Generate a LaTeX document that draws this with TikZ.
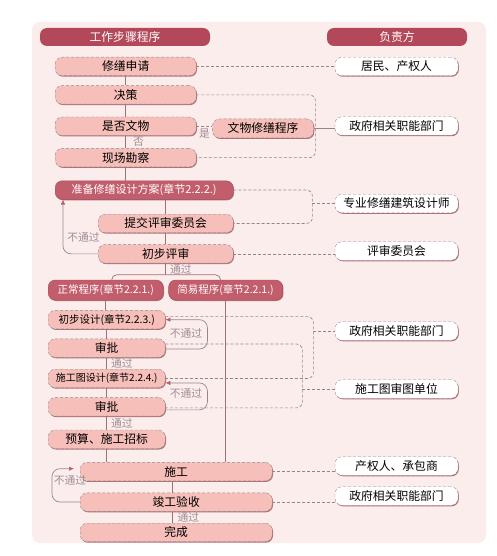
\documentclass[tikz,border=0pt]{standalone}
\usepackage{fontspec}
\setmainfont{Noto Sans CJK SC}
\usepackage{tikz}
\usetikzlibrary{positioning,shadows,arrows.meta}
\definecolor{bgpink}{HTML}{FCEDED}
\definecolor{hdrred}{HTML}{B2485A}
\definecolor{darkstep}{HTML}{C25D6C}
\definecolor{lightstep}{HTML}{F6BFB9}
\definecolor{stepshade}{HTML}{B07078}
\definecolor{flowline}{HTML}{A07078}
\definecolor{respline}{HTML}{908888}
\definecolor{loopline}{HTML}{968690}
\definecolor{looparrow}{HTML}{B8606E}
\definecolor{labelgray}{HTML}{A08C94}
\tikzset{
  bracket/.style={
    to path={
      (\tikztostart) -- ++(#1,0) |- (\tikztotarget)
      \tikztonodes
    }
  },
  bracket/.default=20pt,
}
\begin{document}
\begin{tikzpicture}[
    x=1pt, y=-1pt,
    node distance=10pt,
%     stepname/.style={rectangle, rounded corners=7pt, draw=black!50, fill=lightstep},
    stepname/.style={rectangle, rounded corners=7pt, draw=black!45, densely dashed, fill=lightstep,
      minimum height=18.5pt, inner sep=0pt, font=\fontsize{11.8}{12}\selectfont,
      drop shadow={shadow xshift=0.8pt, shadow yshift=-1pt, fill=stepshade, opacity=1}},
    keystep/.style={stepname, solid, draw=darkstep!85!black, fill=darkstep, text=white},
    smallstep/.style={font=\fontsize{10.5}{11}\selectfont},
    whoname/.style={rectangle, rounded corners=7pt, draw=black!45, densely dashed, fill=white,
      minimum width=123pt, minimum height=18.5pt, inner sep=0pt, font=\fontsize{11.8}{12}\selectfont,
      drop shadow={shadow xshift=0.8pt, shadow yshift=-1pt, fill=stepshade, opacity=1}},
    headname/.style={rectangle, rounded corners=7pt, fill=hdrred, text=white,
      minimum height=18pt, inner sep=0pt, font=\fontsize{11.8}{12}\selectfont},
    flow/.style={draw=flowline, line width=0.7pt},
    resp/.style={draw=respline, densely dashed, line width=0.65pt, rounded corners=6pt},
    retry/.style={draw=loopline, line width=0.7pt, rounded corners=8pt,
      -{Latex[length=5pt, width=4.5pt, color=looparrow]}},
    note/.style={font=\fontsize{10.8}{11}\selectfont, text=labelgray, inner sep=1pt}
  ]
    \fill[white] (0,0) rectangle (496,556);
    \fill[bgpink, rounded corners=8pt] (32,22) rectangle (486,543);
    \useasboundingbox (0,0) rectangle (496,556);

    \node (head-steps) [headname, minimum width=170pt] at (125,37) { 工作步骤程序 };
    \node (head-who) [headname, minimum width=140pt] at (397,37) { 负责方 };

    \node (apply) [stepname, minimum width=141pt, anchor=north west] at (55,57) { 修缮申请 };
    \node (decide) [below=9.5pt of apply.south west, anchor=north west, stepname, minimum width=141pt] { 决策 };
    \node (relic) [below=12.5pt of decide.south west, anchor=north west, stepname, minimum width=141pt] { 是否文物 };
    \node (survey) [below=12.5pt of relic.south west, anchor=north west, stepname, minimum width=141pt] { 现场勘察 };
    \node (relic-proc) [right=16pt of relic.east, yshift=-2.2pt, anchor=west, stepname, minimum width=101pt, minimum height=19pt] { 文物修缮程序 };

    \node (design) [below=13.5pt of survey.south west, anchor=north west, keystep, minimum width=178pt, font=\fontsize{11}{12}\selectfont] { 准备修缮设计方案(章节2.2.2.) };
    \node (submit) [below=14.5pt of design.south west, xshift=43pt, anchor=north west, stepname, minimum width=135pt] { 提交评审委员会 };
    \node (review) [below=11.5pt of submit.south west, anchor=north west, stepname, minimum width=135pt] { 初步评审 };

    \node (normal) [below=16.5pt of review.south west, xshift=-50pt, anchor=north west, keystep, smallstep, minimum width=115pt, minimum height=20pt] { 正常程序(章节2.2.1.) };
    \node (simple) [right=5pt of normal.north east, anchor=north west, keystep, smallstep, minimum width=114pt, minimum height=20pt] { 简易程序(章节2.2.1.) };

    \node (prelim) [below=10pt of normal.south west, anchor=north west, stepname, smallstep, minimum width=117pt] { 初步设计(章节2.2.3.) };
    \node (approve-a) [below=9.5pt of prelim.south west, anchor=north west, stepname, minimum width=117pt] { 审批 };
    \node (drawing) [below=11.5pt of approve-a.south west, anchor=north west, stepname, minimum width=117pt, font=\fontsize{10}{11}\selectfont] { 施工图设计(章节2.2.4.) };
    \node (approve-b) [below=9.5pt of drawing.south west, anchor=north west, stepname, minimum width=117pt] { 审批 };
    \node (tender) [below=13.5pt of approve-b.south west, anchor=north west, stepname, minimum width=117pt] { 预算、施工招标 };

    \node (build) [below=13.5pt of tender.south west, xshift=32pt, anchor=north west, stepname, minimum width=192pt] { 施工 };
    \node (accept) [below=11.5pt of build.south west, anchor=north west, stepname, minimum width=192pt] { 竣工验收 };
    \node (finish) [below=11.5pt of accept.south west, anchor=north west, stepname, minimum width=192pt] { 完成 };

    \node (owner) [whoname] at (396.5,66.5) { 居民、产权人 };
    \node (gov-relic) [whoname] at (396.5,126) { 政府相关职能部门 };
    \node (designer) [whoname] at (396.5,203.5) { 专业修缮建筑设计师 };
    \node (committee) [whoname] at (396.5,251) { 评审委员会 };
    \node (gov-design) [whoname] at (396.5,331) { 政府相关职能部门 };
    \node (checker) [whoname] at (396.5,389) { 施工图审图单位 };
    \node (contractor) [whoname] at (396.5,466) { 产权人、承包商 };
    \node (gov-accept) [whoname] at (396.5,496) { 政府相关职能部门 };

    \draw[flow] (apply) -- (decide);
    \draw[flow] (decide) -- (relic);
    \draw[flow] (relic) -- (survey) node (no-relic) [note, midway, right, xshift=6pt] { 否 };
    \draw[flow] (survey.south) -- (survey.south |- design.north);
    \draw[flow] (submit.north |- design.south) -- (submit.north);
    \draw[flow] (submit) -- (review);
    \draw[flow] (review.south) -- ++(0,11.5) node (pass-review) [note, midway, right, xshift=3pt] { 通过 };
    \draw[flow, rounded corners=5pt] ([xshift=6pt]normal.north) |- ([yshift=-11.5pt]review.south) -| ([xshift=-5pt]simple.north);

    \draw[flow] (normal.south) -- (normal.south |- prelim.north);
    \draw[flow] (prelim) -- (approve-a);
    \draw[flow] (approve-a) -- (drawing) node (pass-a) [note, midway, right, xshift=3pt] { 通过 };
    \draw[flow] (drawing) -- (approve-b);
    \draw[flow] (approve-b) -- (tender) node (pass-b) [note, midway, right, xshift=3pt] { 通过 };
    \draw[flow] (tender.south) -- (tender.south |- build.north);
    \draw[flow] (simple.south) -- (simple.south |- build.north);
    \draw[flow] ([xshift=-4pt]build.south) -- ([xshift=-4pt]build.south |- accept.north);
    \draw[flow] ([xshift=-4pt]accept.south) -- ([xshift=-4pt]accept.south |- finish.north) node (pass-accept) [note, midway, right, xshift=4pt] { 通过 };

    \draw[retry] (review.west) -| ([xshift=8pt]design.south west);
    \node (fail-review) [note] at (83.5,237) { 不通过 };
    \draw[retry] ([yshift=-1pt]approve-a.east) to[bracket=42pt] (prelim.east);
    \node (fail-a) [note] at (186,333) { 不通过 };
    \draw[retry] ([yshift=-3pt]approve-b.east) to[bracket=42pt] ([yshift=-4.5pt]drawing.east);
    \node (fail-b) [note] at (186,393) { 不通过 };
    \draw[retry] (accept.west) -| ([xshift=-28pt, yshift=3pt]build.west) -- ([xshift=-6pt, yshift=3pt]build.west);
    \node (fail-accept) [note] at (70,480) { 不通过 };

    \draw[resp] (apply.east) -- (apply.east -| owner.west);
    \draw[resp] (decide.east) to[bracket=119pt] (survey.east);
    \draw[resp] (relic.east) -- (relic.east -| relic-proc.west) node (is-relic) [note, midway, below, yshift=-1pt] { 是 };
    \draw[resp, solid] (relic-proc.east) -- (relic-proc.east -| gov-relic.west);
    \draw[resp] (design.east) to[bracket=79pt] (submit.east);
    \draw[resp] ([xshift=79pt]submit.east |- designer.west) -- (designer.west);
    \draw[resp] (review.east) -- (review.east -| committee.west);
    \draw[resp] ([yshift=3pt]prelim.east) to[bracket=148pt] (drawing.east);
    \draw[resp] ([xshift=148pt]prelim.east |- gov-design.west) -- (gov-design.west);
    \draw[resp] ([yshift=4pt]approve-a.east) to[bracket=137pt] ([yshift=-1pt]approve-b.east);
    \draw[resp] ([xshift=137pt]approve-a.east |- checker.west) -- (checker.west);
    \draw[resp] (build.east) -- (build.east -| contractor.west);
    \draw[resp] (accept.east) -- (accept.east -| gov-accept.west);
  \end{tikzpicture}
\end{document}
